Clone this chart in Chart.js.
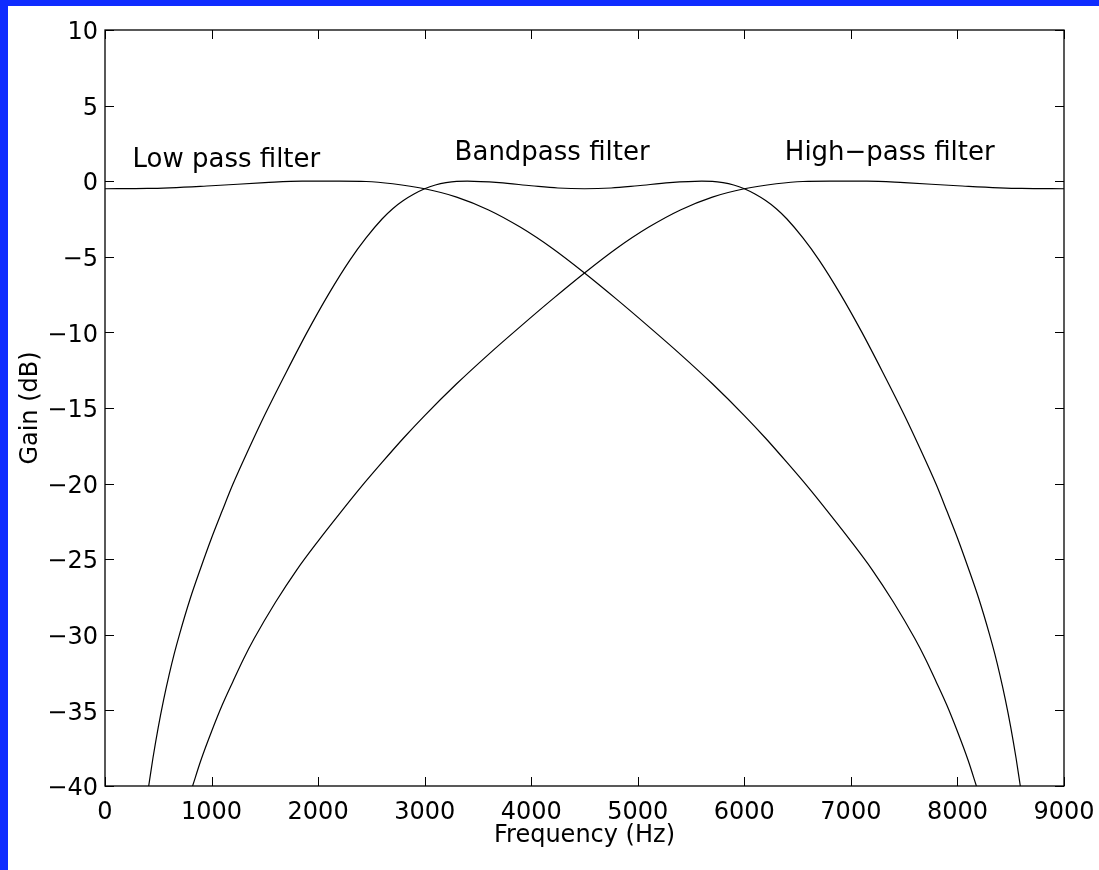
<!DOCTYPE html>
<html>
<head>
<meta charset="utf-8">
<script src="https://cdn.jsdelivr.net/npm/chart.js@4.4.1/dist/chart.umd.min.js"></script>
<style>
  html, body { margin: 0; padding: 0; background: #0f2cff; }
  body { width: 1099px; height: 870px; overflow: hidden; position: relative; }
  #wrap { position: absolute; left: 8px; top: 6px; width: 1091px; height: 864px; background: #fff; }
</style>
</head>
<body>
<div id="wrap"><canvas id="filterChart"></canvas></div>
<script>
// -----------------------
// Data
// -----------------------
const lowHz  = [0, 400, 1000, 1500, 1850, 2200, 2450, 2700, 3000, 3300, 3600, 3900, 4200, 4500, 4800, 5100, 5400, 5700, 6000, 6200, 6400, 6600, 6800, 7000, 7200, 7400, 7600, 7700, 7800, 7900, 8000, 8100, 8178];
const lowDb  = [-0.5, -0.48, -0.3, -0.1, 0, 0, -0.02, -0.17, -0.5, -1.05, -1.9, -3.05, -4.45, -6.07, -7.8, -9.6, -11.45, -13.4, -15.5, -17.0, -18.6, -20.25, -22.0, -23.8, -25.7, -27.85, -30.25, -31.6, -33.1, -34.65, -36.4, -38.3, -40];

const bandHz = [410, 450, 500, 550, 600, 650, 700, 800, 900, 1000, 1100, 1200, 1350, 1500, 1700, 1900, 2100, 2300, 2450, 2600, 2700, 2800, 2900, 3000, 3100, 3200, 3300, 3400, 3700, 4000, 4250, 4500, 4750, 5000, 5300, 5600, 5700, 5800, 5900, 6000, 6100, 6200, 6300, 6400, 6550, 6700, 6900, 7100, 7300, 7500, 7650, 7800, 7900, 8000, 8100, 8200, 8300, 8350, 8400, 8450, 8500, 8550, 8590];
const bandDb = [-40, -38.15, -36.1, -34.3, -32.7, -31.25, -29.95, -27.6, -25.55, -23.6, -21.8, -20.05, -17.7, -15.45, -12.65, -9.95, -7.45, -5.2, -3.75, -2.5, -1.82, -1.28, -0.85, -0.5, -0.25, -0.09, -0.01, 0, -0.1, -0.3, -0.45, -0.5, -0.45, -0.3, -0.1, 0, -0.01, -0.09, -0.25, -0.5, -0.85, -1.28, -1.82, -2.5, -3.75, -5.2, -7.45, -9.95, -12.65, -15.45, -17.7, -20.05, -21.8, -23.6, -25.55, -27.6, -29.95, -31.25, -32.7, -34.3, -36.1, -38.15, -40];

const highHz = [822, 900, 1000, 1100, 1200, 1300, 1400, 1600, 1800, 2000, 2200, 2400, 2600, 2800, 3000, 3300, 3600, 3900, 4200, 4500, 4800, 5100, 5400, 5700, 6000, 6300, 6550, 6800, 7150, 7500, 8000, 8600, 9000];
const highDb = [-40, -38.3, -36.4, -34.65, -33.1, -31.6, -30.25, -27.85, -25.7, -23.8, -22.0, -20.25, -18.6, -17.0, -15.5, -13.4, -11.45, -9.6, -7.8, -6.07, -4.45, -3.05, -1.9, -1.05, -0.5, -0.17, -0.02, 0, 0, -0.1, -0.3, -0.48, -0.5];

// curve labels
const noteText = ["Low pass filter", "Bandpass filter", "High\u2212pass filter"];
const noteHz   = [258, 3281, 6380];
const noteDb   = [1.4, 1.87, 1.87];

const xTicks = [0, 1000, 2000, 3000, 4000, 5000, 6000, 7000, 8000, 9000];
const yTicks = [-40, -35, -30, -25, -20, -15, -10, -5, 0, 5, 10];

const FONT = "'DejaVu Sans', sans-serif";

function toPoints(xs, ys) {
  return xs.map((x, i) => ({ x: x, y: ys[i] }));
}

function fmtMinus(v) {
  return v < 0 ? "\u2212" + Math.abs(v) : String(v);
}

// -----------------------
// MATLAB style box, inner ticks, text
// -----------------------
const matlabAxes = {
  id: "matlabAxes",
  afterDatasetsDraw(chart) {
    const { ctx, chartArea: a, scales } = chart;
    const x = scales.x, y = scales.y;
    const tl = 9;
    ctx.save();
    ctx.strokeStyle = "#000";
    ctx.lineWidth = 1;
    ctx.beginPath();
    xTicks.forEach(v => {
      const px = Math.round(x.getPixelForValue(v)) + 0.5;
      ctx.moveTo(px, a.bottom); ctx.lineTo(px, a.bottom - tl);
      ctx.moveTo(px, a.top); ctx.lineTo(px, a.top + tl);
    });
    yTicks.forEach(v => {
      const py = Math.round(y.getPixelForValue(v)) + 0.5;
      ctx.moveTo(a.left, py); ctx.lineTo(a.left + tl, py);
      ctx.moveTo(a.right, py); ctx.lineTo(a.right - tl, py);
    });
    ctx.stroke();
    ctx.lineWidth = 1.3;
    ctx.strokeRect(a.left, a.top, a.right - a.left, a.bottom - a.top);

    ctx.fillStyle = "#000";
    ctx.font = "26px " + FONT;
    ctx.textAlign = "left";
    ctx.textBaseline = "middle";
    noteText.forEach((t, i) => {
      ctx.fillText(t, x.getPixelForValue(noteHz[i]), y.getPixelForValue(noteDb[i]));
    });
    ctx.restore();
  }
};

const lineStyle = { borderColor: "#000", borderWidth: 1.2, pointRadius: 0, fill: false, cubicInterpolationMode: "monotone" };

const filterCtx = document.getElementById("filterChart").getContext("2d");

const filterChart = new Chart(filterCtx, {
  type: "line",
  data: { datasets: [
    Object.assign({ label: "Low pass filter", data: toPoints(lowHz, lowDb) }, lineStyle),
    Object.assign({ label: "Bandpass filter", data: toPoints(bandHz, bandDb) }, lineStyle),
    Object.assign({ label: "High-pass filter", data: toPoints(highHz, highDb) }, lineStyle)
  ]},
  options: {
    responsive: true,
    maintainAspectRatio: false,
    animation: false,
    layout: { padding: { left: 0, top: 24, right: 35, bottom: 0 } },
    plugins: { legend: { display: false }, tooltip: { enabled: false } },
    scales: {
      x: {
        type: "linear", min: 0, max: 9000,
        afterBuildTicks: s => { s.ticks = xTicks.map(v => ({ value: v })); },
        ticks: { color: "#000", font: { family: FONT, size: 24 }, padding: 12, maxRotation: 0, autoSkip: false, callback: v => String(v) },
        grid: { display: false, drawTicks: false },
        border: { display: false },
        title: { display: true, text: "Frequency (Hz)", color: "#000", font: { family: FONT, size: 24 }, padding: { top: 0, bottom: 20 } },
        afterFit: s => { s.height = 84; s.paddingLeft = 0; s.paddingRight = 0; }
      },
      y: {
        type: "linear", min: -40, max: 10,
        afterBuildTicks: s => { s.ticks = yTicks.map(v => ({ value: v })); },
        ticks: { color: "#000", font: { family: FONT, size: 24 }, padding: 7, labelOffset: 3, callback: fmtMinus, autoSkip: false },
        grid: { display: false, drawTicks: false },
        border: { display: false },
        title: { display: true, text: "Gain (dB)", color: "#000", font: { family: FONT, size: 24 }, padding: { top: 8, bottom: 0 } },
        afterFit: s => { s.width = 97; s.paddingTop = 0; s.paddingBottom = 0; }
      }
    }
  },
  plugins: [matlabAxes]
});
</script>
</body>
</html>
